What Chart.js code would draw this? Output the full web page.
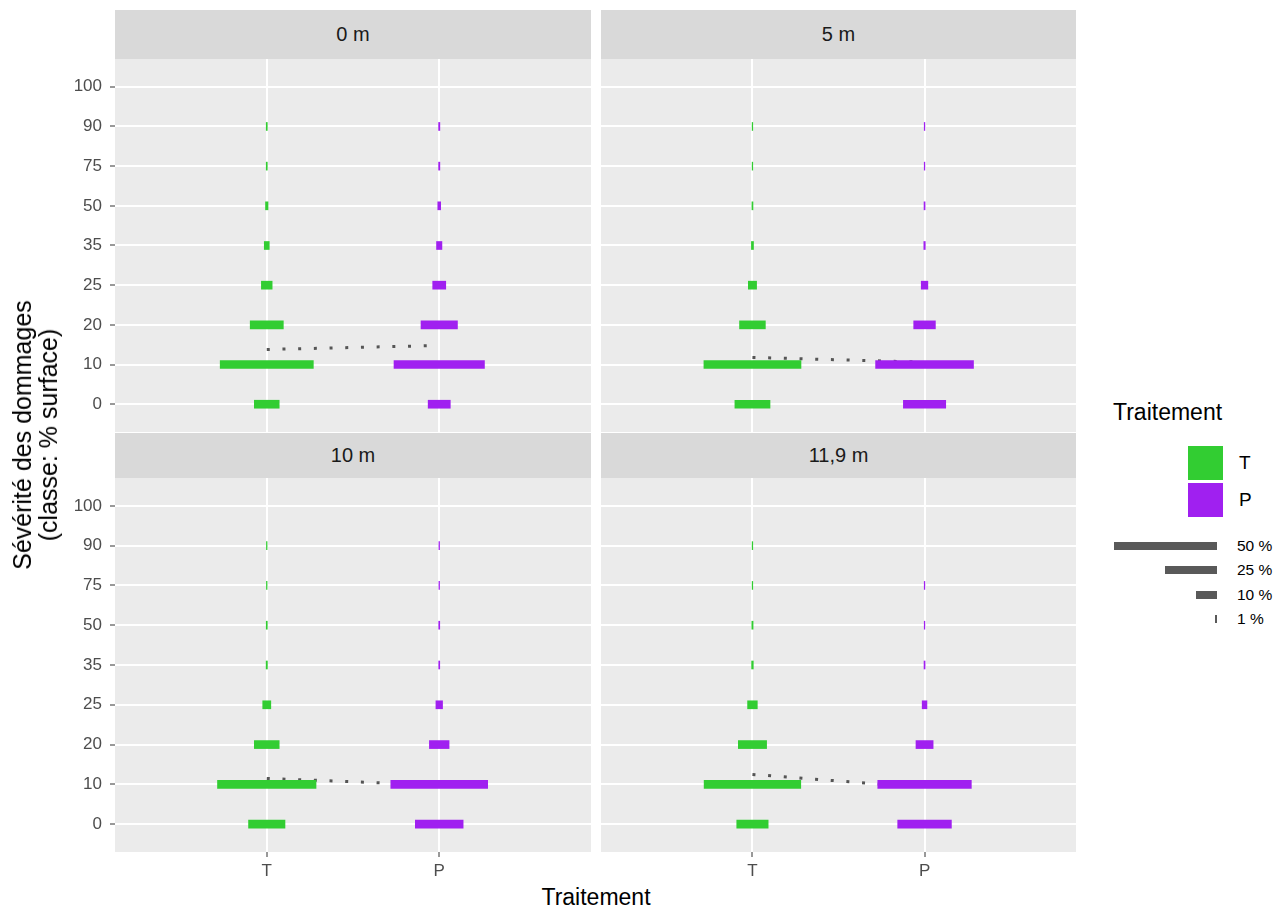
<!DOCTYPE html>
<html>
<head>
<meta charset="utf-8">
<script src="https://cdn.jsdelivr.net/npm/chart.js@4.4.1/dist/chart.umd.min.js"></script>
<style>
body{margin:0;background:#fff;width:1286px;height:907px;position:relative;overflow:hidden;font-family:"Liberation Sans",Arial,sans-serif}
canvas{position:absolute}
.strip{position:absolute;background:#D9D9D9;color:#1A1A1A;font-size:20px;text-align:center}
.abs{position:absolute;white-space:nowrap}
</style>
</head>
<body>

<div class="strip" id="s0" style="left:115px;top:10px;width:476px;height:49px;line-height:49px"></div>
<div class="strip" id="s1" style="left:601px;top:10px;width:475px;height:49px;line-height:49px"></div>
<div class="strip" id="s2" style="left:115px;top:433px;width:476px;height:45px;line-height:45px"></div>
<div class="strip" id="s3" style="left:601px;top:433px;width:475px;height:45px;line-height:45px"></div>

<canvas id="c0" width="591" height="373" style="left:0;top:59px"></canvas>
<canvas id="c1" width="475" height="373" style="left:601px;top:59px"></canvas>
<canvas id="c2" width="591" height="404" style="left:0;top:478px"></canvas>
<canvas id="c3" width="475" height="404" style="left:601px;top:478px"></canvas>

<div class="abs" style="left:35px;top:435px;transform:translate(-50%,-50%) rotate(-90deg);text-align:center;font-size:25px;line-height:26px;color:#000">Sévérité des dommages<br>(classe: % surface)</div>
<div class="abs" style="left:596px;top:897px;transform:translate(-50%,-50%);font-size:23px;color:#000">Traitement</div>

<div id="legend"></div>

<script>
const classes = ['0', '10', '20', '25', '35', '50', '75', '90', '100']
const treatments = ['T', 'P']
const distances = ['0 m', '5 m', '10 m', '11,9 m']
const colors = ['#32CD32', '#A020F0']

// % par classe de sévérité (ordre: 0,10,20,25,35,50,75,90,100)
const t0m = [12, 45, 16, 5.2, 2.4, 1.2, 0.5, 0.5, 0]
const p0m = [10.7, 43.7, 17.6, 6.3, 2.6, 1.4, 0.6, 0.6, 0]
const t5m = [17, 47, 12.5, 4, 1, 0.5, 0.3, 0.3, 0]
const p5m = [20.5, 47.4, 10.5, 3.2, 0.7, 0.5, 0.3, 0.3, 0]
const t10m = [17.6, 47.6, 12, 3.9, 0.6, 0.5, 0.3, 0.3, 0]
const p10m = [23.1, 46.8, 9.5, 3.2, 0.5, 0.5, 0.3, 0.3, 0]
const t119m = [15.2, 46.8, 13.7, 4.7, 0.8, 0.6, 0.3, 0.3, 0]
const p119m = [26, 45.3, 8.3, 2.3, 0.5, 0.3, 0.3, 0, 0]

// classe moyenne (en rang de classe)
const meanT = [1.38, 1.18, 1.15, 1.25]
const meanP = [1.48, 1.06, 0.98, 0.92]

const legendPct = [50, 25, 10, 1]

const series = [[t0m, p0m], [t5m, p5m], [t10m, p10m], [t119m, p119m]]
const widthPerPct = 0.012
const family = '"Liberation Sans", Arial, sans-serif'

const panelBg = {
    id: 'panelBg',
    beforeDraw(chart) {
        const {ctx, chartArea: a} = chart
        ctx.save()
        ctx.fillStyle = '#EBEBEB'
        ctx.fillRect(a.left, a.top, a.width, a.height)
        ctx.restore()
    }
}

function barData(pcts, xi) {
    let out = []
    pcts.forEach((v, i) => {
        if (v > 0) out.push({y: i, x: [xi - v * widthPerPct / 2, xi + v * widthPerPct / 2]})
    })
    return out
}

let charts = []
for (let k = 0; k < 4; k++) {
    document.getElementById('s' + k).textContent = distances[k]
    let showY = k % 2 === 0
    let showX = k >= 2
    let datasets = [{
        type: 'line',
        indexAxis: 'x',
        data: [{x: 1, y: meanT[k]}, {x: 2, y: meanP[k]}],
        borderColor: '#555555',
        borderWidth: 3,
        borderDash: [3, 12.7],
        borderCapStyle: 'butt',
        pointRadius: 0,
        fill: false,
        order: 2
    }]
    treatments.forEach((t, j) => {
        datasets.push({
            type: 'bar',
            label: t,
            data: barData(series[k][j], j + 1),
            backgroundColor: colors[j],
            borderWidth: 0,
            barThickness: 8,
            grouped: false,
            order: 1
        })
    })
    charts.push(new Chart(document.getElementById('c' + k), {
        type: 'bar',
        data: {datasets: datasets},
        plugins: [panelBg],
        options: {
            responsive: false,
            animation: false,
            indexAxis: 'y',
            layout: {padding: 0},
            plugins: {legend: {display: false}, tooltip: {enabled: false}},
            scales: {
                x: {
                    type: 'linear', min: 0.12, max: 2.88, offset: false,
                    afterBuildTicks: s => { s.ticks = [{value: 1}, {value: 2}] },
                    afterFit: s => { s.height = showX ? 30 : 0 },
                    grid: {offset: false, color: '#FFFFFF', lineWidth: 2, drawTicks: showX, tickLength: 5, tickColor: '#333333', tickWidth: 1},
                    border: {display: false},
                    ticks: {display: showX, callback: v => treatments[v - 1], color: '#4D4D4D', font: {size: 17, family: family}, padding: 4, maxRotation: 0, autoSkip: false}
                },
                y: {
                    type: 'linear', min: -0.7, max: 8.7, offset: false,
                    afterBuildTicks: s => { s.ticks = classes.map((c, i) => ({value: i})) },
                    afterFit: s => { s.width = showY ? 115 : 0; s.paddingTop = 0; s.paddingBottom = 0 },
                    grid: {offset: false, color: '#FFFFFF', lineWidth: 2, drawTicks: showY, tickLength: 5, tickColor: '#333333', tickWidth: 1},
                    border: {display: false},
                    ticks: {display: showY, callback: v => classes[v], color: '#4D4D4D', font: {size: 17, family: family}, padding: 8, autoSkip: false}
                }
            }
        }
    }))
}

// légende
let lg = document.getElementById('legend')
let html = '<div class="abs" style="left:1113px;top:399px;font-size:23px;color:#000">Traitement</div>'
treatments.forEach((t, j) => {
    let top = 446 + j * 37
    html += '<div class="abs" style="left:1188px;top:' + top + 'px;width:35px;height:34px;background:' + colors[j] + '"></div>'
    html += '<div class="abs" style="left:1239px;top:' + (top + 6) + 'px;font-size:19px;color:#000">' + t + '</div>'
})
let xs = charts[0].scales.x
let pxPerUnit = xs.getPixelForValue(2) - xs.getPixelForValue(1)
legendPct.forEach((p, i) => {
    let cy = 546 + i * 24.3
    let w = Math.max(p * widthPerPct * pxPerUnit, 1.5)
    html += '<div class="abs" style="left:' + (1217 - w) + 'px;top:' + (cy - 4) + 'px;width:' + w + 'px;height:8px;background:#595959"></div>'
    html += '<div class="abs" style="left:1237px;top:' + (cy - 9) + 'px;font-size:15.5px;color:#000">' + p + ' %</div>'
})
lg.innerHTML = html
</script>
</body>
</html>
